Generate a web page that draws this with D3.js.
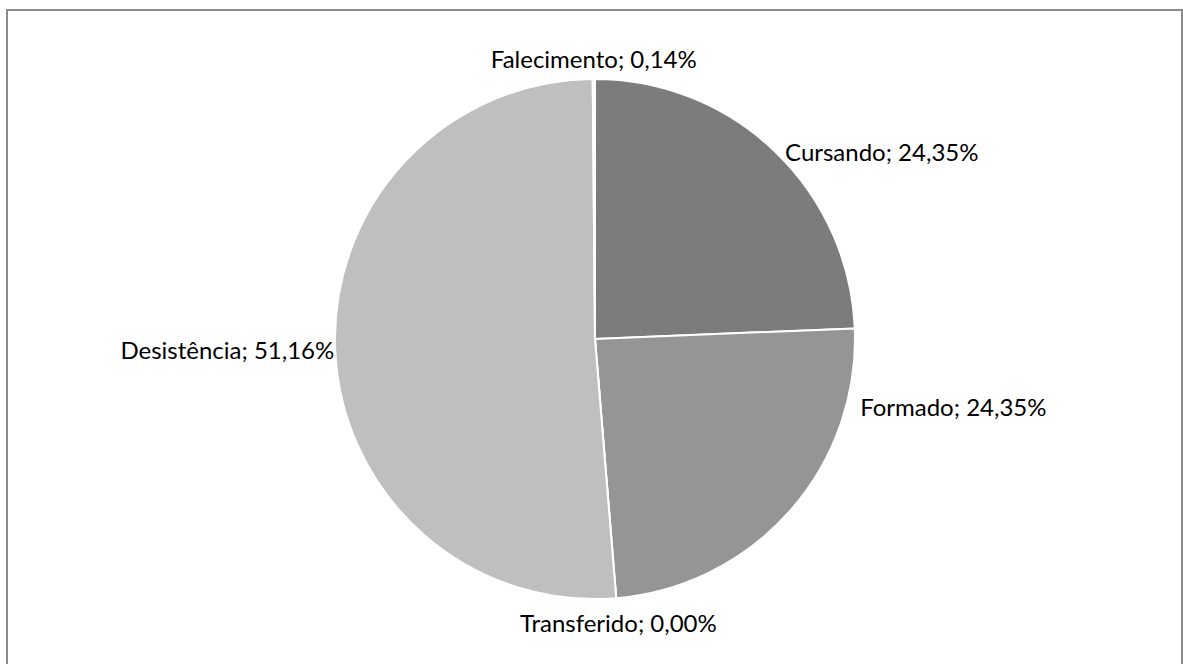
<!DOCTYPE html>
<html>
<head>
<meta charset="utf-8">
<script src="https://cdn.jsdelivr.net/npm/d3@7"></script>
<style>
  html, body { margin: 0; padding: 0; background: #fff; }
  svg { display: block; }
  text { font-family: Lato, "Open Sans", sans-serif; fill: #000; }
</style>
</head>
<body>
<script>
// ---- data ----
const categories = ["Cursando", "Formado", "Transferido", "Desistência", "Falecimento"];
const values = [24.35, 24.35, 0.00, 51.16, 0.14];
const colors = ["#7c7c7c", "#959595", "#a5a5a5", "#bfbfbf", "#e4e4e4"];

// ---- layout ----
const W = 1183, H = 664;
const cx = 595, cy = 339, R = 260;
// label placement (angle override in degrees where the label was moved, radial distance)
const labelAngleOverride = [45.6, 104.6, null, null, null];
const labelDist = [266, 274, 286, 261, 279];

const svg = d3.select("body").append("svg").attr("width", W).attr("height", H);

// chart area border
svg.append("rect")
  .attr("x", 7).attr("y", 10)
  .attr("width", W - 8).attr("height", H)
  .attr("fill", "#fff").attr("stroke", "#8c8c8c").attr("stroke-width", 2);

const data = categories.map((c, i) => ({ name: c, value: values[i], color: colors[i], i }));

const pie = d3.pie().value(d => d.value).sort(null);
const arcs = pie(data);
const arc = d3.arc().innerRadius(0).outerRadius(R);

const g = svg.append("g").attr("transform", `translate(${cx},${cy})`);

g.selectAll("path.slice")
  .data(arcs)
  .join("path")
  .attr("class", "slice")
  .attr("d", arc)
  .attr("fill", d => d.data.color)
  .attr("stroke", "#fff")
  .attr("stroke-width", 2)
  .attr("stroke-linejoin", "round");

const fmt = v => v.toFixed(2).replace(".", ",") + "%";

g.selectAll("text.lbl")
  .data(arcs)
  .join("text")
  .attr("class", "lbl")
  .each(function(d) {
    const i = d.data.i;
    const a = labelAngleOverride[i] != null
      ? labelAngleOverride[i] * Math.PI / 180
      : (d.startAngle + d.endAngle) / 2;
    const r = labelDist[i];
    const x = r * Math.sin(a), y = -r * Math.cos(a);
    const s = Math.sin(a);
    const anchor = s > 0.3 ? "start" : (s < -0.3 ? "end" : "middle");
    d3.select(this)
      .attr("x", x).attr("y", y)
      .attr("dy", "0.35em")
      .attr("text-anchor", anchor)
      .style("font-size", "24px")
      .text(d.data.name + "; " + fmt(d.data.value));
  });
</script>
</body>
</html>
